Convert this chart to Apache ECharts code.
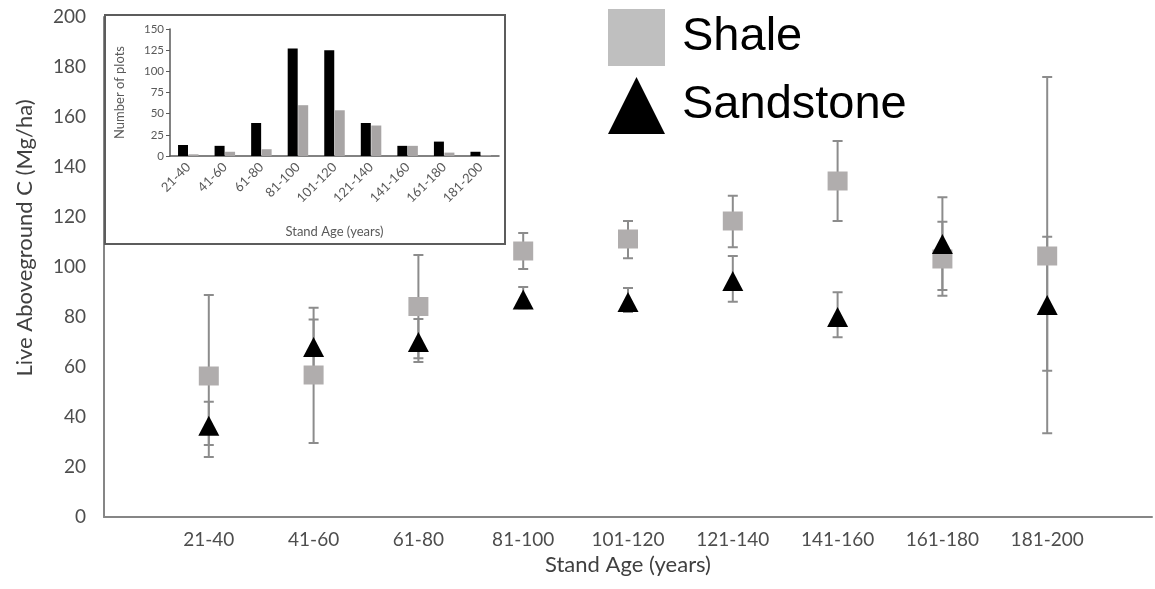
<!DOCTYPE html>
<html>
<head>
<meta charset="utf-8">
<script src="https://cdn.jsdelivr.net/npm/echarts@6/dist/echarts.min.js"></script>
<style>
    html, body { margin: 0; padding: 0; background: #fff; }
    #chart { width: 1155px; height: 589px; }
</style>
</head>
<body>
<div id="chart"></div>
<script>
// stand age classes
const categories = ['21-40', '41-60', '61-80', '81-100', '101-120', '121-140', '141-160', '161-180', '181-200'];

// live aboveground C, mean and error bar ends
const shaleMean = [56.4, 56.8, 84.2, 106.4, 111.2, 118.4, 134.4, 103.2, 104.4];
const shaleLow = [24, 29.6, 63.5, 99.2, 103.5, 107.9, 118.4, 88.5, 33.5];
const shaleHigh = [88.8, 83.7, 104.8, 113.6, 118.4, 128.5, 150.4, 118.1, 176];

const sandMean = [36.5, 68, 70, 87, 86, 94.4, 80, 109.2, 84.8];
const sandLow = [28.8, 57, 62, 83.5, 82, 86.1, 71.9, 90.8, 58.5];
const sandHigh = [46.1, 79, 79.2, 92, 91.6, 104.4, 89.9, 127.9, 112.1];

// inset: number of plots
const plotsSandstone = [13, 12, 39, 127, 125, 39, 12, 17, 5];
const plotsShale = [2, 5, 8, 60, 54, 36, 12, 4, 1];

const yTicks = [0, 200, 20];
const insetTicks = [0, 150, 25];

const errColor = '#8c8c8c';
const shaleColor = '#b0adad';

function points(mean) {
    return mean.map((v, i) => [i + 1, v]);
}
function bars(low, high) {
    return low.map((v, i) => [i + 1, v, high[i]]);
}

function renderErr(params, api) {
    const x = api.value(0);
    const lo = api.coord([x, api.value(1)]);
    const hi = api.coord([x, api.value(2)]);
    const cap = 5;
    const style = { stroke: errColor, lineWidth: 2 };
    return {
        type: 'group',
        children: [
            { type: 'line', shape: { x1: lo[0], y1: lo[1], x2: hi[0], y2: hi[1] }, style: style },
            { type: 'line', shape: { x1: lo[0] - cap, y1: lo[1], x2: lo[0] + cap, y2: lo[1] }, style: style },
            { type: 'line', shape: { x1: hi[0] - cap, y1: hi[1], x2: hi[0] + cap, y2: hi[1] }, style: style }
        ]
    };
}

const chart = echarts.init(document.getElementById('chart'));

chart.setOption({
    animation: false,
    backgroundColor: '#fff',
    legend: {
        orient: 'vertical',
        left: 603,
        top: 4,
        itemWidth: 57,
        itemHeight: 57,
        itemGap: 11,
        selectedMode: false,
        textStyle: {
            fontFamily: 'Liberation Sans',
            fontSize: 47,
            lineHeight: 57,
            color: '#000',
            padding: [0, 0, 0, 12]
        },
        data: [
            { name: 'Shale', icon: 'rect', itemStyle: { color: '#bfbfbf' } },
            { name: 'Sandstone', icon: 'triangle', itemStyle: { color: '#000' } }
        ]
    },
    graphic: [{
        type: 'rect',
        z: 5,
        shape: { x: 105, y: 15, width: 400, height: 229 },
        style: { fill: '#fff', stroke: '#5c5c5c', lineWidth: 2 }
    }],
    grid: [{
        left: 104,
        top: 17,
        width: 1060,
        height: 500
    }, {
        left: 170,
        top: 29,
        width: 329,
        height: 127
    }],
    xAxis: [{
        type: 'value',
        gridIndex: 0,
        min: 0,
        max: 10,
        interval: 1,
        name: 'Stand Age (years)',
        nameLocation: 'middle',
        nameGap: 37,
        nameTextStyle: {
            fontFamily: 'Lato',
            fontSize: 22,
            color: '#404040'
        },
        axisLine: { lineStyle: { color: '#868686', width: 2 } },
        axisTick: { show: false },
        splitLine: { show: false },
        axisLabel: {
            margin: 13,
            fontFamily: 'Lato',
            fontSize: 19,
            color: '#4d4d4d',
            formatter: function (v) {
                return categories[v - 1] || '';
            }
        }
    }, {
        type: 'category',
        gridIndex: 1,
        z: 10,
        data: categories,
        name: 'Stand Age (years)',
        nameLocation: 'middle',
        nameGap: 69,
        nameTextStyle: {
            fontFamily: 'Lato',
            fontSize: 13,
            color: '#595959'
        },
        axisLine: { lineStyle: { color: '#595959', width: 1.5 } },
        axisTick: { show: false },
        axisLabel: {
            interval: 0,
            rotate: 45,
            margin: 9,
            fontFamily: 'Lato',
            fontSize: 13,
            color: '#595959'
        }
    }],
    yAxis: [{
        type: 'value',
        gridIndex: 0,
        min: yTicks[0],
        max: yTicks[1],
        interval: yTicks[2],
        name: 'Live Aboveground C (Mg/ha)',
        nameLocation: 'middle',
        nameGap: 68,
        nameTextStyle: {
            fontFamily: 'Lato',
            fontSize: 22,
            color: '#404040',
            padding: [0, 0, 0, 58]
        },
        axisLine: { show: true, lineStyle: { color: '#868686', width: 2 } },
        axisTick: { show: false },
        splitLine: { show: false },
        axisLabel: {
            margin: 18,
            fontFamily: 'Lato',
            fontSize: 19,
            color: '#4d4d4d'
        }
    }, {
        type: 'value',
        gridIndex: 1,
        z: 10,
        min: insetTicks[0],
        max: insetTicks[1],
        interval: insetTicks[2],
        name: 'Number of plots',
        nameLocation: 'middle',
        nameGap: 44,
        nameTextStyle: {
            fontFamily: 'Lato',
            fontSize: 13,
            color: '#595959'
        },
        axisLine: { show: true, lineStyle: { color: '#595959', width: 1.5 } },
        axisTick: { show: true, inside: false, length: 4, lineStyle: { color: '#595959' } },
        splitLine: { show: false },
        axisLabel: {
            margin: 6,
            fontFamily: 'Lato',
            fontSize: 11.5,
            color: '#595959'
        }
    }],
    series: [{
        name: 'shaleErr',
        type: 'custom',
        xAxisIndex: 0,
        yAxisIndex: 0,
        z: 2,
        renderItem: renderErr,
        data: bars(shaleLow, shaleHigh)
    }, {
        name: 'sandErr',
        type: 'custom',
        xAxisIndex: 0,
        yAxisIndex: 0,
        z: 2,
        renderItem: renderErr,
        data: bars(sandLow, sandHigh)
    }, {
        name: 'Shale',
        type: 'scatter',
        xAxisIndex: 0,
        yAxisIndex: 0,
        z: 3,
        symbol: 'rect',
        symbolSize: [20, 19],
        itemStyle: { color: shaleColor, opacity: 1 },
        data: points(shaleMean)
    }, {
        name: 'Sandstone',
        type: 'scatter',
        xAxisIndex: 0,
        yAxisIndex: 0,
        z: 4,
        symbol: 'triangle',
        symbolSize: [21, 20],
        itemStyle: { color: '#000', opacity: 1 },
        data: points(sandMean)
    }, {
        name: 'plotsSandstone',
        type: 'bar',
        xAxisIndex: 1,
        yAxisIndex: 1,
        z: 10,
        barWidth: 10,
        barGap: '5%',
        itemStyle: { color: '#000' },
        data: plotsSandstone
    }, {
        name: 'plotsShale',
        type: 'bar',
        xAxisIndex: 1,
        yAxisIndex: 1,
        z: 10,
        barWidth: 10,
        itemStyle: { color: '#a8a5a5' },
        data: plotsShale
    }]
});
</script>
</body>
</html>
